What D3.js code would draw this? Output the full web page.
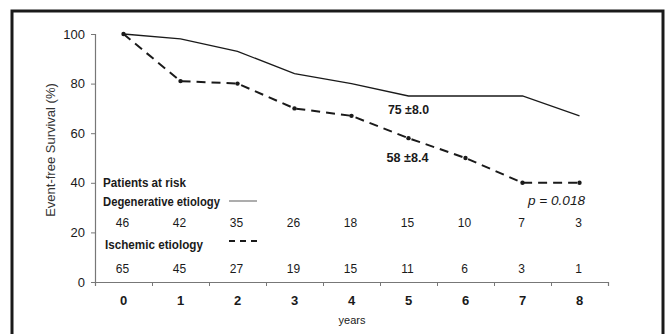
<!DOCTYPE html>
<html lang="en">
<head>
  <meta charset="UTF-8">
  <title>Event-free Survival</title>
  <script src="https://d3js.org/d3.v7.min.js"></script>
  <style>
    body { margin: 0; background: #fff; }
    svg { display: block; font-family: "Liberation Sans", Arial, sans-serif; }
    .narrow { font-weight: bold; }
  </style>
</head>
<body>
  <div id="chart"></div>
  <script>
    var years = [0, 1, 2, 3, 4, 5, 6, 7, 8];
    var degenerative = [100, 98, 93, 84, 80, 75, 75, 75, 67];
    var ischemic = [100, 81, 80, 70, 67, 58, 50, 40, 40];
    var degRisk = [46, 42, 35, 26, 18, 15, 10, 7, 3];
    var ischRisk = [65, 45, 27, 19, 15, 11, 6, 3, 1];
    var yTicks = [0, 20, 40, 60, 80, 100];

    var width = 665, height = 334;
    var svg = d3.select("#chart").append("svg")
      .attr("width", width)
      .attr("height", height);

    // outer frame
    svg.append("rect")
      .attr("x", 12).attr("y", 11)
      .attr("width", 651).attr("height", 332)
      .attr("fill", "none")
      .attr("stroke", "#1a1a1a")
      .attr("stroke-width", 3);

    var x = d3.scaleBand().domain(years).range([95, 608]).padding(0);
    var xEdge = d3.scaleLinear().domain([0, years.length]).range([95, 608]);
    var y = d3.scaleLinear().domain([0, 100]).range([282, 34]);
    var cx = function(d) { return x(d) + x.bandwidth() / 2; };

    // condensed bold label helper (no narrow font installed)
    function narrowText(txt, xPos, yPos, len, anchor) {
      return svg.append("text")
        .attr("class", "narrow")
        .attr("x", xPos).attr("y", yPos)
        .attr("text-anchor", anchor || "start")
        .attr("font-size", 13)
        .attr("fill", "#1a1a1a")
        .attr("textLength", len)
        .attr("lengthAdjust", "spacingAndGlyphs")
        .text(txt);
    }

    // y axis
    var yAxis = svg.append("g")
      .attr("transform", "translate(95,0)")
      .call(d3.axisLeft(y).tickValues(yTicks).tickSize(4).tickPadding(6));
    yAxis.select(".domain").attr("stroke", "#777").attr("stroke-width", 1.2);
    yAxis.selectAll(".tick line").attr("stroke", "#777");
    yAxis.selectAll(".tick text")
      .attr("font-size", 13)
      .attr("fill", "#1a1a1a")
      .attr("font-family", "Liberation Sans, Arial, sans-serif");

    // x axis: ticks at category edges
    var xAxis = svg.append("g")
      .attr("transform", "translate(0,282)")
      .call(d3.axisBottom(xEdge).tickValues(d3.range(0, years.length + 1)).tickSize(4).tickFormat(""));
    xAxis.select(".domain").attr("stroke", "#777").attr("stroke-width", 1.2);
    xAxis.selectAll(".tick line").attr("stroke", "#777");

    svg.append("g").selectAll("text")
      .data(years)
      .join("text")
      .attr("x", cx)
      .attr("y", 305)
      .attr("text-anchor", "middle")
      .attr("font-size", 13)
      .attr("font-weight", "bold")
      .attr("fill", "#1a1a1a")
      .text(function(d) { return d; });

    svg.append("text")
      .attr("x", 352).attr("y", 324)
      .attr("text-anchor", "middle")
      .attr("font-size", 11)
      .attr("fill", "#1a1a1a")
      .text("years");

    svg.append("text")
      .attr("transform", "translate(52,150) rotate(-90)")
      .attr("text-anchor", "middle")
      .attr("dominant-baseline", "middle")
      .attr("font-size", 13)
      .attr("fill", "#333")
      .text("Event-free Survival (%)");

    // survival lines
    var line = d3.line()
      .x(function(d, i) { return cx(years[i]); })
      .y(function(d) { return y(d); });

    svg.append("path")
      .datum(degenerative)
      .attr("fill", "none")
      .attr("stroke", "#1a1a1a")
      .attr("stroke-width", 1.3)
      .attr("d", line);

    svg.append("path")
      .datum(ischemic)
      .attr("fill", "none")
      .attr("stroke", "#1a1a1a")
      .attr("stroke-width", 2)
      .attr("stroke-dasharray", "9,6")
      .attr("d", line);

    svg.append("g").selectAll("circle")
      .data(ischemic)
      .join("circle")
      .attr("cx", function(d, i) { return cx(years[i]); })
      .attr("cy", function(d) { return y(d); })
      .attr("r", 2.2)
      .attr("fill", "#1a1a1a");

    // estimates
    narrowText("75 \u00B18.0", cx(5), y(75) + 18, 41, "middle");
    narrowText("58 \u00B18.4", cx(5) - 1, y(58) + 24, 42, "middle");

    svg.append("text")
      .attr("x", 585).attr("y", 205)
      .attr("text-anchor", "end")
      .attr("font-size", 13)
      .attr("font-style", "italic")
      .attr("fill", "#1a1a1a")
      .attr("textLength", 57)
      .attr("lengthAdjust", "spacingAndGlyphs")
      .text("p = 0.018");

    // patients at risk table
    narrowText("Patients at risk", 103, 187, 83);
    narrowText("Degenerative etiology", 103, 206, 117);
    narrowText("Ischemic etiology", 105, 249, 98);

    svg.append("line")
      .attr("x1", 229).attr("x2", 257)
      .attr("y1", 201).attr("y2", 201)
      .attr("stroke", "#777")
      .attr("stroke-width", 1.2);

    svg.append("line")
      .attr("x1", 229).attr("x2", 257)
      .attr("y1", 241).attr("y2", 241)
      .attr("stroke", "#1a1a1a")
      .attr("stroke-width", 2)
      .attr("stroke-dasharray", "6,5");

    svg.append("g").selectAll("text")
      .data(degRisk)
      .join("text")
      .attr("x", function(d, i) { return cx(years[i]) - 1; })
      .attr("y", 227)
      .attr("text-anchor", "middle")
      .attr("font-size", 12)
      .attr("fill", "#1a1a1a")
      .text(function(d) { return d; });

    svg.append("g").selectAll("text")
      .data(ischRisk)
      .join("text")
      .attr("x", function(d, i) { return cx(years[i]) - 1; })
      .attr("y", 273)
      .attr("text-anchor", "middle")
      .attr("font-size", 12)
      .attr("fill", "#1a1a1a")
      .text(function(d) { return d; });
  </script>
</body>
</html>
